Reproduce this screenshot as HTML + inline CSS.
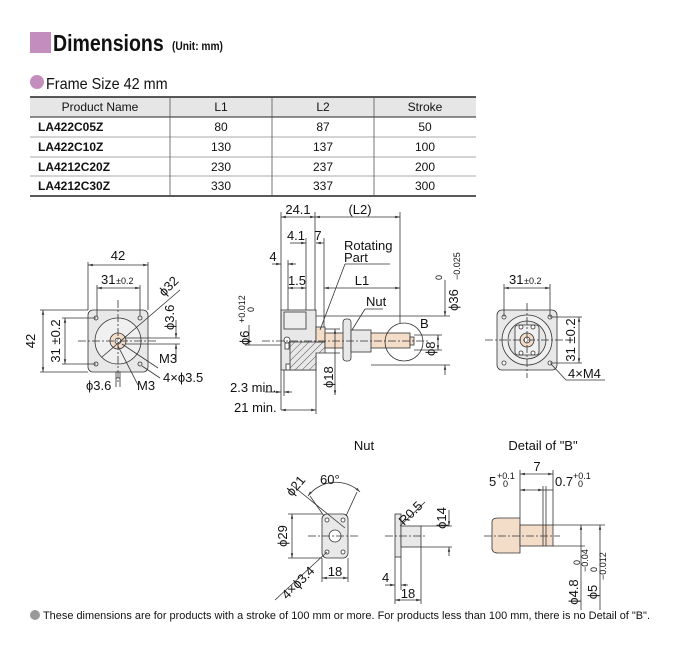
<!DOCTYPE html>
<html><head><meta charset="utf-8"><style>
html,body{margin:0;padding:0;background:#fff;}
svg{display:block;font-family:"Liberation Sans",sans-serif;}
.t{font-size:13px;fill:#111;}
.s{font-size:9px;fill:#111;}
</style></head><body>
<svg width="678" height="652" viewBox="0 0 678 652" xmlns="http://www.w3.org/2000/svg">
<defs>
<pattern id="h" width="5" height="5" patternUnits="userSpaceOnUse" patternTransform="rotate(45)">
<rect width="5" height="5" fill="#e8e8e8"/><line x1="0" y1="0" x2="0" y2="5" stroke="#333" stroke-width="0.8"/></pattern>
<marker id="a" markerWidth="6" markerHeight="6" refX="6" refY="3" orient="auto-start-reverse"><path d="M0,1.5 L6,3 L0,4.5z" fill="#333"/></marker>
</defs>
<rect x="30" y="32" width="21" height="21" fill="#c38dbd"/>
<text x="53" y="51" font-size="23" font-weight="bold" fill="#111" transform="translate(53,0) scale(0.85,1) translate(-53,0)">Dimensions</text>
<text x="172" y="50" font-size="12" font-weight="bold" fill="#111" transform="translate(172,0) scale(0.85,1) translate(-172,0)">(Unit: mm)</text>
<circle cx="37" cy="82" r="7" fill="#c38dbd"/>
<text x="46" y="89" font-size="16" fill="#111" transform="translate(46,0) scale(0.9,1) translate(-46,0)">Frame Size 42 mm</text>
<rect x="30" y="97" width="446" height="20" fill="#e6e6e6"/>
<line x1="30" y1="97" x2="476" y2="97" stroke="#222" stroke-width="1.5"/>
<line x1="30" y1="117" x2="476" y2="117" stroke="#222" stroke-width="1"/>
<line x1="30" y1="137" x2="476" y2="137" stroke="#aaa" stroke-width="1"/>
<line x1="30" y1="157" x2="476" y2="157" stroke="#aaa" stroke-width="1"/>
<line x1="30" y1="176" x2="476" y2="176" stroke="#aaa" stroke-width="1"/>
<line x1="30" y1="196" x2="476" y2="196" stroke="#222" stroke-width="1.5"/>
<g stroke="#555" stroke-width="0.8"><line x1="170" y1="97" x2="170" y2="196"/><line x1="272" y1="97" x2="272" y2="196"/><line x1="374" y1="97" x2="374" y2="196"/></g>
<g font-size="12" fill="#111" text-anchor="middle">
<text x="100" y="111">Product Name</text><text x="221" y="111">L1</text><text x="323" y="111">L2</text><text x="425" y="111">Stroke</text>
<text x="221" y="131">80</text><text x="323" y="131">87</text><text x="425" y="131">50</text>
<text x="221" y="151">130</text><text x="323" y="151">137</text><text x="425" y="151">100</text>
<text x="221" y="171">230</text><text x="323" y="171">237</text><text x="425" y="171">200</text>
<text x="221" y="190">330</text><text x="323" y="190">337</text><text x="425" y="190">300</text>
</g>
<g font-size="12" font-weight="bold" fill="#111">
<text x="38" y="131">LA422C05Z</text><text x="38" y="151">LA422C10Z</text><text x="38" y="171">LA4212C20Z</text><text x="38" y="190">LA4212C30Z</text>
</g>
<g stroke="#333" stroke-width="0.8" fill="none">
<rect x="88" y="310" width="60" height="62" rx="5" fill="#e8e8e8"/>
<circle cx="118" cy="341" r="23" fill="#f0f0f0"/>
<circle cx="118" cy="341" r="8" fill="#f3dcc8"/>
<circle cx="118" cy="341" r="3" fill="#fff"/>
<circle cx="96" cy="318" r="2"/><circle cx="140" cy="318" r="2"/><circle cx="96" cy="364" r="2"/><circle cx="140" cy="364" r="2"/>
<rect x="116" y="372" width="4" height="6"/>
<line x1="78" y1="341" x2="158" y2="341" stroke-dasharray="8,2,2,2"/>
<line x1="118" y1="300" x2="118" y2="382" stroke-dasharray="8,2,2,2"/>
<line x1="88" y1="262" x2="88" y2="310"/><line x1="148" y1="262" x2="148" y2="310"/>
<line x1="88" y1="265" x2="148" y2="265" marker-start="url(#a)" marker-end="url(#a)"/>
<line x1="97" y1="285" x2="97" y2="316"/><line x1="140" y1="285" x2="140" y2="316"/>
<line x1="97" y1="288" x2="140" y2="288" marker-start="url(#a)" marker-end="url(#a)"/>
<line x1="40" y1="310" x2="88" y2="310"/><line x1="40" y1="372" x2="88" y2="372"/>
<line x1="43" y1="310" x2="43" y2="372" marker-start="url(#a)" marker-end="url(#a)"/>
<line x1="62" y1="318" x2="96" y2="318"/><line x1="62" y1="364" x2="96" y2="364"/>
<line x1="65" y1="318" x2="65" y2="364" marker-start="url(#a)" marker-end="url(#a)"/>
<line x1="102" y1="357" x2="180" y2="290"/>
<line x1="125" y1="338" x2="180" y2="338"/><line x1="125" y1="344" x2="180" y2="344"/>
<line x1="176" y1="320" x2="176" y2="338" marker-end="url(#a)"/><line x1="176" y1="362" x2="176" y2="344" marker-end="url(#a)"/>
<line x1="122" y1="344" x2="158" y2="368" /><line x1="118" y1="346" x2="138" y2="385"/>
<line x1="142" y1="366" x2="160" y2="378"/>
<line x1="116" y1="378" x2="116" y2="387"/><line x1="120" y1="378" x2="120" y2="387"/>
</g>
<text class="t" x="118" y="260" text-anchor="middle">42</text>
<text class="t" x="101" y="284">31</text><text class="s" x="116" y="284">±0.2</text>
<text class="t" x="35" y="341" text-anchor="middle" transform="rotate(-90 35 341)">42</text>
<text class="t" x="60" y="341" text-anchor="middle" transform="rotate(-90 60 341)">31 ±0.2</text>
<text class="t" x="164" y="297" transform="rotate(-45 164 297)">ϕ32</text>
<text class="t" x="174" y="330" transform="rotate(-90 174 330)">ϕ3.6</text>
<text class="t" x="159" y="363">M3</text>
<text class="t" x="163" y="382">4×ϕ3.5</text>
<text class="t" x="86" y="390">ϕ3.6</text>
<text class="t" x="137" y="390">M3</text>
<g stroke="#333" stroke-width="0.8">
<rect x="281" y="310" width="35" height="60" fill="#e8e8e8"/>
<rect x="284" y="312" width="22" height="17" fill="#ededed"/>
<path d="M290 342 H325 V353 H316 V370 H290 Z" fill="url(#h)"/>
<rect x="316" y="327" width="9" height="15" fill="#f3dcc8"/>
<rect x="325" y="333" width="85" height="15" fill="#f3dcc8"/>
<rect x="343" y="319" width="8" height="42" rx="3" fill="#e8e8e8"/>
<rect x="351" y="330" width="20" height="22" fill="#e8e8e8"/>
<circle cx="404" cy="342" r="19" fill="none"/>
<rect x="410" y="337" width="4" height="8" fill="#f3dcc8"/>
<circle cx="287" cy="340" r="3" fill="#fff"/>
<rect x="285" y="343" width="4" height="6" fill="#fff"/>
<rect x="286" y="364" width="4" height="6" fill="#fff"/>
<g fill="none">
<line x1="262" y1="341" x2="430" y2="341" stroke-dasharray="8,2,2,2"/>
<line x1="281" y1="212" x2="281" y2="410"/><line x1="315" y1="212" x2="315" y2="310"/>
<line x1="400" y1="212" x2="400" y2="323"/>
<line x1="281" y1="217" x2="315" y2="217" marker-start="url(#a)" marker-end="url(#a)"/>
<line x1="315" y1="217" x2="400" y2="217" marker-start="url(#a)" marker-end="url(#a)"/>
<line x1="306" y1="238" x2="306" y2="310"/><line x1="324" y1="238" x2="324" y2="327"/>
<line x1="290" y1="243" x2="306" y2="243" marker-end="url(#a)"/><line x1="324" y1="243" x2="316" y2="243" marker-end="url(#a)"/>
<line x1="288" y1="260" x2="288" y2="310"/>
<line x1="272" y1="264" x2="281" y2="264" marker-end="url(#a)"/><line x1="296" y1="264" x2="288" y2="264" marker-end="url(#a)"/>
<line x1="288" y1="288" x2="306" y2="288" marker-start="url(#a)" marker-end="url(#a)"/>
<line x1="324" y1="288" x2="400" y2="288" marker-start="url(#a)" marker-end="url(#a)"/>
<line x1="345" y1="264" x2="390" y2="264"/>
<line x1="345" y1="264" x2="320" y2="330"/>
<line x1="383" y1="309" x2="365" y2="309"/><line x1="365" y1="309" x2="352" y2="330"/>
<line x1="316" y1="316" x2="450" y2="316"/><line x1="371" y1="365" x2="450" y2="365"/>
<line x1="445" y1="280" x2="445" y2="316" marker-end="url(#a)"/><line x1="445" y1="375" x2="445" y2="365" marker-end="url(#a)"/>
<line x1="414" y1="335" x2="442" y2="335"/><line x1="414" y1="350" x2="442" y2="350"/>
<line x1="438" y1="335" x2="438" y2="350" marker-start="url(#a)" marker-end="url(#a)"/>
<line x1="325" y1="329" x2="340" y2="329"/><line x1="325" y1="353" x2="340" y2="353"/>
<line x1="335" y1="329" x2="335" y2="395" marker-start="url(#a)" marker-end="url(#a)"/>
<line x1="245" y1="345" x2="281" y2="345"/>
<line x1="249" y1="325" x2="249" y2="345" marker-end="url(#a)"/>
<line x1="284" y1="370" x2="284" y2="396"/>
<line x1="265" y1="392" x2="281" y2="392" marker-end="url(#a)"/><line x1="292" y1="392" x2="284" y2="392" marker-end="url(#a)"/>
<line x1="316" y1="370" x2="316" y2="414"/>
<line x1="281" y1="410" x2="316" y2="410" marker-start="url(#a)" marker-end="url(#a)"/>
</g></g>
<text class="t" x="298" y="214" text-anchor="middle">24.1</text>
<text class="t" x="360" y="214" text-anchor="middle">(L2)</text>
<text class="t" x="296" y="240" text-anchor="middle">4.1</text>
<text class="t" x="318" y="240" text-anchor="middle">7</text>
<text class="t" x="273" y="261" text-anchor="middle">4</text>
<text class="t" x="297" y="285" text-anchor="middle">1.5</text>
<text class="t" x="362" y="285" text-anchor="middle">L1</text>
<text class="t" x="344" y="250">Rotating</text><text class="t" x="344" y="262">Part</text>
<text class="t" x="366" y="306">Nut</text>
<text class="t" x="420" y="328">B</text>
<text class="t" x="458" y="300" text-anchor="middle" transform="rotate(-90 458 300)">ϕ36</text>
<text class="s" x="442" y="280" transform="rotate(-90 442 280)">0</text>
<text class="s" x="460" y="280" transform="rotate(-90 460 280)">−0.025</text>
<text class="t" x="435" y="356" transform="rotate(-90 435 356)">ϕ8</text>
<text class="t" x="333" y="388" transform="rotate(-90 333 388)">ϕ18</text>
<text class="t" x="249" y="345" transform="rotate(-90 249 345)" text-anchor="start">ϕ6</text>
<text class="s" x="245" y="323" transform="rotate(-90 245 323)">+0.012</text>
<text class="s" x="254" y="312" transform="rotate(-90 254 312)">0</text>
<text class="t" x="230" y="392">2.3 min.</text>
<text class="t" x="234" y="412">21 min.</text>
<g stroke="#333" stroke-width="0.8">
<rect x="497" y="310" width="60" height="60" rx="5" fill="#e8e8e8"/>
<circle cx="527" cy="340" r="25" fill="#efefef"/>
<circle cx="527" cy="340" r="19" fill="#e6e6e6"/>
<rect x="515" y="325" width="24" height="30" rx="3" fill="#f0f0f0"/>
<circle cx="527" cy="340" r="7" fill="#f3dcc8"/><circle cx="527" cy="340" r="3" fill="#fff"/>
<g fill="#fff"><circle cx="521" cy="327" r="2"/><circle cx="533" cy="327" r="2"/><circle cx="521" cy="353" r="2"/><circle cx="533" cy="353" r="2"/>
<circle cx="504" cy="317" r="2"/><circle cx="550" cy="317" r="2"/><circle cx="504" cy="363" r="2"/><circle cx="550" cy="363" r="2"/></g>
<g fill="none">
<line x1="485" y1="340" x2="570" y2="340" stroke-dasharray="8,2,2,2"/>
<line x1="527" y1="303" x2="527" y2="378" stroke-dasharray="8,2,2,2"/>
<line x1="504" y1="284" x2="504" y2="317"/><line x1="550" y1="284" x2="550" y2="317"/>
<line x1="504" y1="288" x2="550" y2="288" marker-start="url(#a)" marker-end="url(#a)"/>
<line x1="550" y1="317" x2="582" y2="317"/><line x1="550" y1="363" x2="582" y2="363"/>
<line x1="579" y1="317" x2="579" y2="363" marker-start="url(#a)" marker-end="url(#a)"/>
<line x1="551" y1="364" x2="566" y2="380"/><line x1="566" y1="380" x2="605" y2="380"/>
</g></g>
<text class="t" x="509" y="284">31</text><text class="s" x="524" y="284">±0.2</text>
<text class="t" x="575" y="340" text-anchor="middle" transform="rotate(-90 575 340)">31 ±0.2</text>
<text class="t" x="568" y="378">4×M4</text>
<text class="t" x="364" y="450" text-anchor="middle">Nut</text>
<text class="t" x="543" y="450" text-anchor="middle">Detail of "B"</text>
<g stroke="#333" stroke-width="0.8">
<rect x="322" y="514" width="26" height="44" rx="5" fill="#e8e8e8"/>
<circle cx="335" cy="536" r="6" fill="#fff"/>
<g fill="#fff"><circle cx="327" cy="520" r="2"/><circle cx="343" cy="520" r="2"/><circle cx="327" cy="552" r="2"/><circle cx="343" cy="552" r="2"/></g>
<rect x="395" y="514" width="6" height="43" fill="#e8e8e8"/>
<rect x="401" y="526" width="20" height="21" fill="#e8e8e8"/>
<path d="M492 522 Q492 518 498 518 H520 V553 H498 Q492 553 492 548 Z" fill="#f3dcc8"/>
<rect x="520" y="525" width="33" height="21" fill="#f3dcc8"/>
<line x1="543" y1="525" x2="543" y2="546"/><line x1="546" y1="525" x2="546" y2="546"/>
<g fill="none">
<line x1="308" y1="536" x2="360" y2="536" stroke-dasharray="8,2,2,2"/>
<line x1="385" y1="536" x2="425" y2="536" stroke-dasharray="8,2,2,2"/>
<line x1="484" y1="536" x2="560" y2="536" stroke-dasharray="8,2,2,2"/>
<path d="M308 496 A35 35 0 0 1 360 492" marker-start="url(#a)" marker-end="url(#a)"/>
<line x1="310" y1="496" x2="324" y2="516"/><line x1="357" y1="492" x2="346" y2="516"/>
<line x1="293" y1="486" x2="345" y2="528"/>
<line x1="288" y1="514" x2="322" y2="514"/><line x1="288" y1="558" x2="322" y2="558"/>
<line x1="292" y1="514" x2="292" y2="558" marker-start="url(#a)" marker-end="url(#a)"/>
<line x1="275" y1="600" x2="327" y2="552"/>
<line x1="322" y1="558" x2="322" y2="582"/><line x1="348" y1="558" x2="348" y2="582"/>
<line x1="322" y1="578" x2="348" y2="578" marker-start="url(#a)" marker-end="url(#a)"/>
<line x1="400" y1="526" x2="425" y2="502"/>
<line x1="421" y1="526" x2="452" y2="526"/><line x1="421" y1="547" x2="452" y2="547"/>
<line x1="449" y1="510" x2="449" y2="526" marker-end="url(#a)"/><line x1="449" y1="556" x2="449" y2="547" marker-end="url(#a)"/>
<line x1="395" y1="557" x2="395" y2="604"/><line x1="401" y1="557" x2="401" y2="590"/><line x1="421" y1="547" x2="421" y2="604"/>
<line x1="385" y1="585" x2="395" y2="585" marker-end="url(#a)"/><line x1="408" y1="585" x2="401" y2="585" marker-end="url(#a)"/>
<line x1="395" y1="600" x2="421" y2="600" marker-start="url(#a)" marker-end="url(#a)"/>
<line x1="520" y1="470" x2="520" y2="518"/><line x1="553" y1="470" x2="553" y2="525"/>
<line x1="520" y1="474" x2="553" y2="474" marker-start="url(#a)" marker-end="url(#a)"/>
<line x1="520" y1="490" x2="543" y2="490" marker-start="url(#a)" marker-end="url(#a)"/>
<line x1="543" y1="490" x2="546" y2="490"/><line x1="546" y1="490" x2="553" y2="490"/>
<line x1="543" y1="486" x2="543" y2="525"/><line x1="546" y1="486" x2="546" y2="525"/>
<line x1="553" y1="525" x2="605" y2="525"/><line x1="553" y1="546" x2="585" y2="546"/>
<line x1="581" y1="525" x2="581" y2="610" marker-start="url(#a)"/>
<line x1="600" y1="525" x2="600" y2="610" marker-start="url(#a)"/>
</g></g>
<text class="t" x="320" y="484">60°</text>
<text class="t" x="292" y="497" transform="rotate(-50 292 497)">ϕ21</text>
<text class="t" x="287" y="536" text-anchor="middle" transform="rotate(-90 287 536)">ϕ29</text>
<text class="t" x="287" y="600" transform="rotate(-45 287 600)">4×ϕ3.4</text>
<text class="t" x="335" y="576" text-anchor="middle">18</text>
<text class="t" x="404" y="526" transform="rotate(-45 404 526)">R0.5</text>
<text class="t" x="446" y="518" text-anchor="middle" transform="rotate(-90 446 518)">ϕ14</text>
<text class="t" x="382" y="582">4</text>
<text class="t" x="408" y="598" text-anchor="middle">18</text>
<text class="t" x="489" y="486">5</text><text class="s" x="497" y="479">+0.1</text><text class="s" x="503" y="487">0</text>
<text class="t" x="537" y="471" text-anchor="middle">7</text>
<text class="t" x="555" y="486">0.7</text><text class="s" x="573" y="479">+0.1</text><text class="s" x="578" y="487">0</text>
<text class="t" x="578" y="592" text-anchor="middle" transform="rotate(-90 578 592)">ϕ4.8</text>
<text class="s" x="580" y="565" transform="rotate(-90 580 565)">0</text><text class="s" x="588" y="572" transform="rotate(-90 588 572)">−0.04</text>
<text class="t" x="597" y="592" text-anchor="middle" transform="rotate(-90 597 592)">ϕ5</text>
<text class="s" x="597" y="572" transform="rotate(-90 597 572)">0</text><text class="s" x="606" y="580" transform="rotate(-90 606 580)">−0.012</text>
<circle cx="35" cy="615" r="5" fill="#999"/>
<text x="43" y="619" font-size="11" fill="#111" textLength="607" lengthAdjust="spacingAndGlyphs">These dimensions are for products with a stroke of 100 mm or more. For products less than 100 mm, there is no Detail of "B".</text>
</svg>
</body></html>
